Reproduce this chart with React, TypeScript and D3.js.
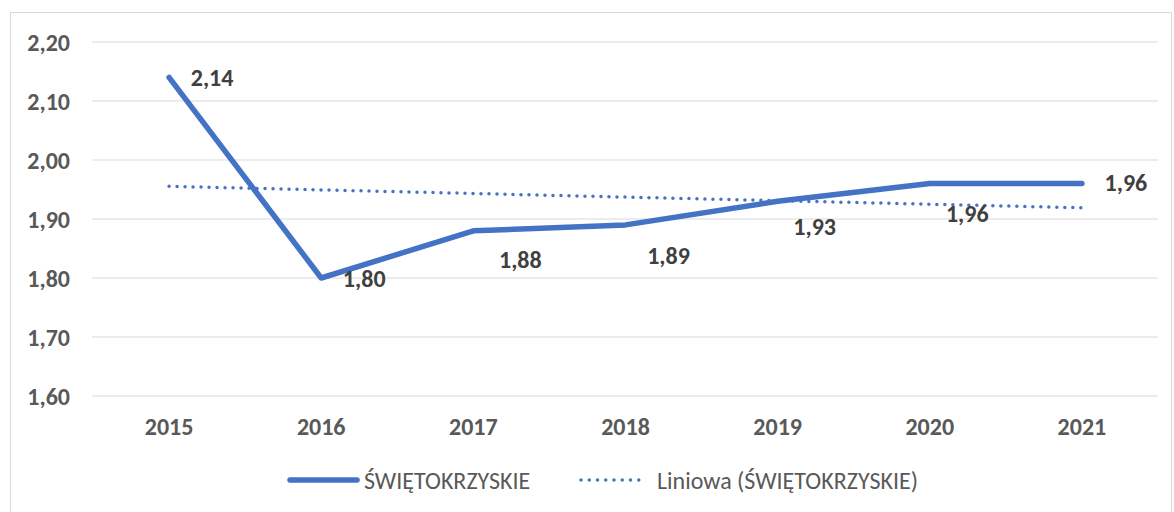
import React from "react";
import * as d3 from "d3";

const years = ["2015", "2016", "2017", "2018", "2019", "2020", "2021"];
const values = [2.14, 1.8, 1.88, 1.89, 1.93, 1.96, 1.96];
const yTicks = [1.6, 1.7, 1.8, 1.9, 2.0, 2.1, 2.2];
const seriesName = "ŚWIĘTOKRZYSKIE";
const trendName = "Liniowa (ŚWIĘTOKRZYSKIE)";

// label offsets (style)
const labelDx = [43, 43, 47, 43, 37, 37.5, 44];
const labelDy = [0, 0, 29, 31, 25.5, 30, -1];

const W = 1174;
const H = 512;
const FONT = "Calibri, Carlito, 'Open Sans', 'Noto Sans', sans-serif";

export default function App() {
  const x = d3.scaleBand().domain(years).range([93, 1158]);
  const y = d3.scaleLinear().domain([1.6, 2.2]).range([396, 42]);
  const cx = (i: number) => (x(years[i]) as number) + x.bandwidth() / 2;

  const xs = values.map((_, i) => i);
  const mx = d3.mean(xs) as number;
  const my = d3.mean(values) as number;
  const slope =
    d3.sum(xs, (xi, i) => (xi - mx) * (values[i] - my)) /
    d3.sum(xs, (xi) => (xi - mx) ** 2);
  const trend = xs.map((xi) => my + slope * (xi - mx));

  const line = d3
    .line<number>()
    .x((_, i) => cx(i))
    .y((d) => y(d));

  const fmt = (v: number) => v.toFixed(2).replace(".", ",");

  return (
    <svg
      width={W}
      height={H}
      style={{ position: "absolute", left: 0, top: 0, fontFamily: FONT }}
    >
      <rect x={0} y={0} width={W} height={H} fill="#fff" />
      <rect x={10.5} y={12.5} width={1161} height={510} fill="#fff" stroke="#d9d9d9" />
      {yTicks.map((t) => (
        <g key={t}>
          <line x1={92} x2={1158} y1={y(t)} y2={y(t)} stroke="#d9d9d9" strokeWidth={1} />
          <text
            x={70}
            y={y(t)}
            textAnchor="end"
            dominantBaseline="central"
            fontSize={24}
            fontWeight="bold"
            fill="#595959"
          >
            {fmt(t)}
          </text>
        </g>
      ))}
      {years.map((yr, i) => (
        <text
          key={yr}
          x={cx(i)}
          y={426}
          textAnchor="middle"
          dominantBaseline="central"
          fontSize={24}
          fontWeight="bold"
          fill="#595959"
        >
          {yr}
        </text>
      ))}
      <path
        d={line(trend) as string}
        fill="none"
        stroke="#4472c4"
        strokeWidth={3.5}
        strokeDasharray="0 8"
        strokeLinecap="round"
      />
      <path
        d={line(values) as string}
        fill="none"
        stroke="#4472c4"
        strokeWidth={5.5}
        strokeLinecap="round"
        strokeLinejoin="round"
      />
      {values.map((v, i) => (
        <text
          key={i}
          x={cx(i) + labelDx[i]}
          y={y(v) + labelDy[i]}
          textAnchor="middle"
          dominantBaseline="central"
          fontSize={24}
          fontWeight="bold"
          fill="#404040"
        >
          {fmt(v)}
        </text>
      ))}
      <g>
        <line x1={290} x2={357} y1={480} y2={480} stroke="#4472c4" strokeWidth={5.5} strokeLinecap="round" />
        <text x={364} y={480} dominantBaseline="central" fontSize={24} fill="#595959">
          {seriesName}
        </text>
        <line
          x1={581}
          x2={647}
          y1={480}
          y2={480}
          stroke="#4472c4"
          strokeWidth={3.5}
          strokeDasharray="0 8.25"
          strokeLinecap="round"
        />
        <text x={657} y={480} dominantBaseline="central" fontSize={24} fill="#595959">
          {trendName}
        </text>
      </g>
    </svg>
  );
}
